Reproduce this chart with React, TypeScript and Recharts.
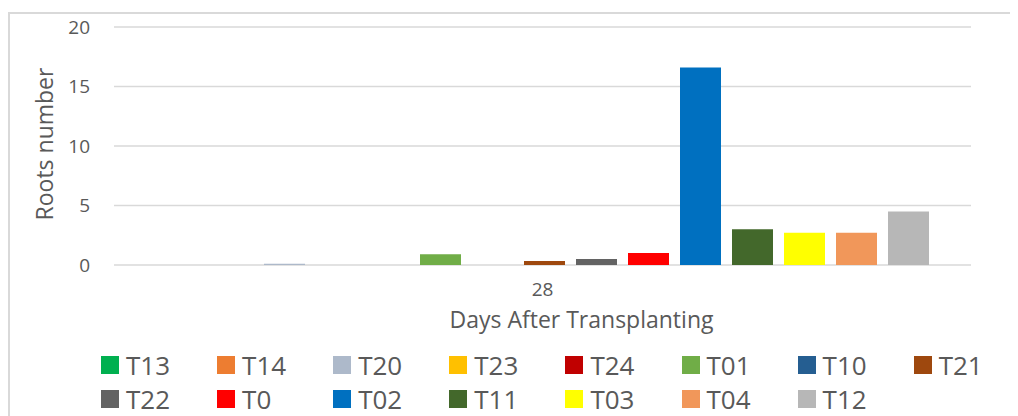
import React from 'react';
import { BarChart, Bar, XAxis, YAxis, CartesianGrid, Legend } from 'recharts';

const categories = ['28'];
const seriesNames = ['T13', 'T14', 'T20', 'T23', 'T24', 'T01', 'T10', 'T21', 'T22', 'T0', 'T02', 'T11', 'T03', 'T04', 'T12'];
const seriesValues = [0, 0, 0.1, 0, 0, 0.9, 0, 0.33, 0.5, 1.0, 16.6, 3.0, 2.7, 2.7, 4.5];
const seriesColors = ['#00B050', '#ED7D31', '#ADB9CA', '#FFC000', '#C00000', '#70AD47', '#255E91', '#9E480E', '#636363', '#FF0000', '#0070C0', '#43682B', '#FFFF00', '#F1975A', '#B7B7B7'];
const yTicks = [0, 5, 10, 15, 20];
const xTitle = 'Days After Transplanting';
const yTitle = 'Roots number';

const data = categories.map((c) => {
  const row: Record<string, string | number> = { day: c };
  seriesNames.forEach((n, i) => {
    row[n] = seriesValues[i];
  });
  return row;
});

const FONT = '"Open Sans", sans-serif';
const TEXT = '#595959';

const XLabel = (props: any) => {
  const vb = props.viewBox || {};
  return (
    <text x={vb.x + vb.width / 2 + 39} y={vb.y + 63} textAnchor="middle" fill={TEXT} fontSize={23} fontFamily={FONT}>
      {xTitle}
    </text>
  );
};

const YLabel = (props: any) => {
  const vb = props.viewBox || {};
  const cx = 36;
  const cy = vb.y + vb.height / 2 - 2;
  return (
    <text x={cx} y={cy} transform={`rotate(-90 ${cx} ${cy})`} textAnchor="middle" dominantBaseline="central" fill={TEXT} fontSize={23} fontFamily={FONT}>
      {yTitle}
    </text>
  );
};

const LegendContent = () => (
  <div style={{ position: 'relative', width: 1010, height: 68 }}>
    {seriesNames.map((n, i) => {
      const col = i % 8;
      const row = Math.floor(i / 8);
      const left = 93 + col * 116.1;
      const cy = 17 + row * 34;
      return (
        <div key={n} style={{ position: 'absolute', left, top: cy - 12, height: 24, display: 'flex', alignItems: 'center', whiteSpace: 'nowrap' }}>
          <span style={{ display: 'inline-block', width: 18, height: 18, background: seriesColors[i] }} />
          <span style={{ marginLeft: 7, fontSize: 26, fontFamily: FONT, color: TEXT, lineHeight: '24px' }}>{n}</span>
        </div>
      );
    })}
  </div>
);

export default function App() {
  return (
    <div style={{ position: 'relative', width: 1010, height: 408 }}>
      <div style={{ position: 'absolute', left: 0, top: 4, width: 1008, height: 404, borderTop: '2px solid #d9d9d9', borderLeft: '2px solid #d9d9d9' }} />
      <BarChart
        width={1010}
        height={408}
        data={data}
        margin={{ top: 19, right: 47, left: 0, bottom: 53 }}
        barCategoryGap={46}
        barGap={11}
      >
        <CartesianGrid vertical={false} stroke="#d9d9d9" strokeWidth={1.5} />
        <XAxis
          dataKey="day"
          axisLine={false}
          tickLine={false}
          tickSize={0}
          tickMargin={18}
          height={30}
          tick={{ fill: TEXT, fontSize: 19, fontFamily: FONT }}
          label={<XLabel />}
        />
        <YAxis
          domain={[0, 20]}
          ticks={yTicks}
          axisLine={false}
          tickLine={false}
          tickSize={0}
          tickMargin={24}
          width={106}
          tick={{ fill: TEXT, fontSize: 19, fontFamily: FONT }}
          label={<YLabel />}
        />
        <Legend
          verticalAlign="bottom"
          content={<LegendContent />}
          wrapperStyle={{ top: 340, left: 0, bottom: 'auto', width: 1010, height: 68 }}
        />
        {seriesNames.map((n, i) => (
          <Bar key={n} dataKey={n} fill={seriesColors[i]} isAnimationActive={false} />
        ))}
      </BarChart>
    </div>
  );
}
